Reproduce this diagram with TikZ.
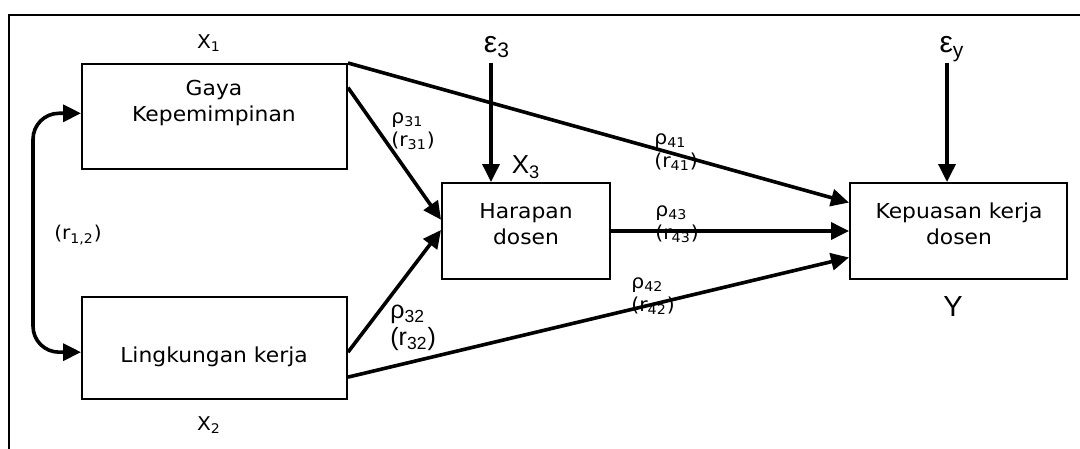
\documentclass[tikz,border=0pt]{standalone}
\usepackage{fontspec}
\setmainfont[FakeStretch=1.06]{DejaVu Sans}
\newfontfamily\arialf{Liberation Sans}
\usetikzlibrary{arrows.meta,calc}
\begin{document}
\begin{tikzpicture}[x=0.5pt,y=-0.5pt,
  boxnode/.style={draw,line width=1pt,inner sep=0pt},
  boxtext/.style={align=center,inner sep=0pt,font=\fontsize{10.3}{12.8}\selectfont},
  arr/.style={line width=1.8pt,-{Triangle[length=9pt,width=8.5pt]}},
  smalllab/.style={inner sep=0pt,font=\fontsize{9.5}{11}\selectfont},
  coef/.style={align=left,inner sep=0pt,anchor=west,font=\fontsize{9.6}{11.5}\selectfont},
  bigcoef/.style={align=left,inner sep=0pt,anchor=west,font=\arialf\fontsize{12.5}{13.8}\selectfont},
  biglab/.style={inner sep=0pt,font=\arialf\fontsize{15}{17}\selectfont}]
\useasboundingbox (0,0) rectangle (1080,449);
% open frame
\draw[line width=1.3pt] (9,449) -- (9,15) -- (1080,15);
% boxes
\node[boxnode,minimum width=132.5pt,minimum height=52.5pt] (g) at (214.5,116.5) {};
\node[boxnode,minimum width=132.5pt,minimum height=51pt] (l) at (214.5,348) {};
\node[boxnode,minimum width=84pt,minimum height=48pt] (h) at (526,231) {};
\node[boxnode,minimum width=108.5pt,minimum height=48pt] (k) at (958.5,231) {};
% box texts
\node[boxtext] (gt) at (214,103) {Gaya\\Kepemimpinan};
\node[boxtext] (lt) at (214,357) {Lingkungan kerja};
\node[boxtext] (ht) at (526,224) {Harapan\\dosen};
\node[boxtext] (kt) at (959,224) {Kepuasan kerja\\dosen};
% variable labels
\node[smalllab] (x1) at (209,43) {X\textsubscript{1}};
\node[smalllab] (x2) at (209,425) {X\textsubscript{2}};
\node[smalllab] (r12) at (78,235) {(r\textsubscript{1,2})};
\node[biglab,font=\arialf\fontsize{13}{15}\selectfont] (x3) at (526,167) {X\textsubscript{3}};
\node[biglab,font=\arialf\fontsize{14.5}{16}\selectfont] (y) at (953,307) {Y};
\node[biglab] (e3) at (497,47) {ε\textsubscript{3}};
\node[biglab] (ey) at (952,49) {ε\textsubscript{y}};
% coefficient labels
\node[coef] (c31) at (391,131) {ρ\textsubscript{31}\\(r\textsubscript{31})};
\node[coef] (c41) at (654,152) {ρ\textsubscript{41}\\(r\textsubscript{41})};
\node[coef] (c43) at (655,224) {ρ\textsubscript{43}\\(r\textsubscript{43})};
\node[coef] (c42) at (631,296) {ρ\textsubscript{42}\\(r\textsubscript{42})};
\node[bigcoef] (c32) at (390,328) {ρ\textsubscript{32}\\(r\textsubscript{32})};
% helper coordinates
\coordinate (rail) at (33,0);
\coordinate (e3a) at (491,63);
\coordinate (eya) at (947,63);
\coordinate (gw) at ($(g.north west)!0.47!(g.south west)$);
\coordinate (lw) at ($(l.north west)!0.54!(l.south west)$);
% connectors
\draw[line width=1.8pt,{Triangle[length=9pt,width=8.5pt]}-{Triangle[length=9pt,width=8.5pt]},rounded corners=13pt]
  (gw) -- (gw -| rail) -- (lw -| rail) -- (lw);
\draw[arr] (g.north east) -- ($(k.north west)!0.21!(k.south west)$);
\draw[arr] ($(g.north east)!0.23!(g.south east)$) -- ($(h.north west)!0.385!(h.south west)$);
\draw[arr] ($(l.north east)!0.54!(l.south east)$) -- ($(h.north west)!0.49!(h.south west)$);
\draw[arr] ($(l.north east)!0.78!(l.south east)$) -- ($(k.north west)!0.77!(k.south west)$);
\draw[arr] (h.east) -- (k.west);
\draw[arr] (e3a) -- (e3a |- h.north);
\draw[arr] (eya) -- (eya |- k.north);
\end{tikzpicture}
\end{document}
